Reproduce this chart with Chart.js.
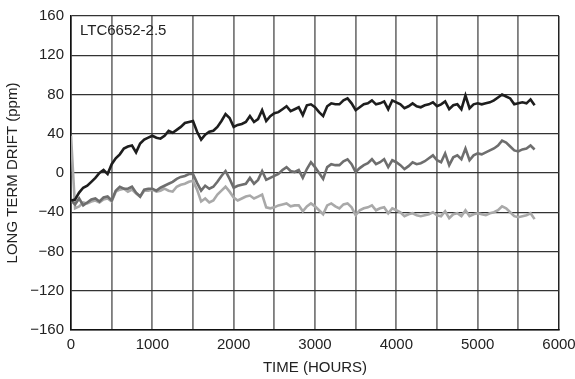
<!DOCTYPE html>
<html>
<head>
<meta charset="utf-8">
<script src="https://cdn.jsdelivr.net/npm/chart.js@4"></script>
<style>
  html, body { margin: 0; padding: 0; background: #fff; }
  #wrap { width: 575px; height: 379px; }
</style>
</head>
<body>
<div id="wrap"><canvas id="grafica1" width="575" height="379"></canvas></div>
<script>
// horas de medida (cada 50 h)
const hours = [
  0, 50, 100, 150, 200, 250, 300, 350, 400, 450,
  500, 550, 600, 650, 700, 750, 800, 850, 900, 950,
  1000, 1050, 1100, 1150, 1200, 1250, 1300, 1350, 1400, 1450,
  1500, 1550, 1600, 1650, 1700, 1750, 1800, 1850, 1900, 1950,
  2000, 2050, 2100, 2150, 2200, 2250, 2300, 2350, 2400, 2450,
  2500, 2550, 2600, 2650, 2700, 2750, 2800, 2850, 2900, 2950,
  3000, 3050, 3100, 3150, 3200, 3250, 3300, 3350, 3400, 3450,
  3500, 3550, 3600, 3650, 3700, 3750, 3800, 3850, 3900, 3950,
  4000, 4050, 4100, 4150, 4200, 4250, 4300, 4350, 4400, 4450,
  4500, 4550, 4600, 4650, 4700, 4750, 4800, 4850, 4900, 4950,
  5000, 5050, 5100, 5150, 5200, 5250, 5300, 5350, 5400, 5450,
  5500, 5550, 5600, 5650, 5700
];

// deriva (ppm) de las tres unidades
const unitBlack = [
  -28, -27, -20, -15, -13, -9, -5, 0, 3, -1,
  9, 15, 19, 25, 27, 28, 21, 30, 34, 36,
  38, 36, 35, 38, 43, 41, 44, 47, 51, 52,
  53, 42, 34, 39, 42, 43, 47, 53, 60, 56,
  47, 49, 50, 52, 58, 52, 55, 64, 53, 58,
  61, 62, 65, 68, 63, 65, 67, 59, 69, 70,
  67, 62, 58, 68, 71, 70, 70, 74, 76, 71,
  64, 67, 70, 71, 74, 70, 71, 73, 65, 74,
  72, 70, 66, 68, 71, 68, 67, 69, 70, 72,
  68, 70, 73, 65, 69, 70, 65, 79, 66, 70,
  71, 70, 71, 72, 74, 77, 80, 78, 76, 70,
  71, 72, 71, 75, 69
];
const unitDark = [
  -28, -32, -26, -33, -30, -27, -26, -29, -25, -24,
  -28, -18, -14, -16, -16, -14, -20, -24, -17, -16,
  -16, -18, -15, -13, -11, -9, -6, -4, -3, -1,
  -1, -10, -18, -13, -16, -14, -9, -3, 2, -6,
  -15, -13, -12, -11, -5, -11, -7, 2, -7, -5,
  -3, -1, 3, 6, 2, 1, 3, -5, 4, 11,
  6, 0, -6, 6, 9, 8, 8, 12, 14, 9,
  1, 5, 8, 10, 14, 9, 11, 14, 6, 13,
  11, 8, 4, 7, 11, 9, 10, 12, 15, 18,
  13, 11, 20, 8, 16, 18, 14, 25, 13, 18,
  20, 19, 21, 23, 25, 28, 33, 31, 27, 23,
  22, 24, 25, 28, 24
];
const unitLight = [
  38, -36, -34, -30, -31, -29, -28, -30, -27, -26,
  -29, -19, -17, -16, -19, -17, -21, -24, -18, -18,
  -17, -19, -18, -16, -18, -19, -14, -12, -11, -9,
  -8, -17, -29, -26, -30, -28, -22, -18, -14, -19,
  -25, -28, -26, -24, -23, -26, -24, -22, -35, -36,
  -35, -33, -32, -31, -34, -33, -33, -39, -34, -31,
  -34, -38, -42, -33, -31, -34, -36, -32, -31, -35,
  -43, -38, -36, -35, -33, -38, -36, -35, -41, -36,
  -38, -40, -44, -42, -41, -43, -44, -43, -42, -40,
  -43, -44, -39, -46, -42, -41, -44, -38, -44, -42,
  -41, -42, -43, -41, -40, -38, -34, -36, -40, -44,
  -45, -44, -43, -41, -47
];

const partName = "LTC6652-2.5";
const xTitle = "TIME (HOURS)";
const yTitle = "LONG TERM DRIFT (ppm)";

const FONT = "'Liberation Sans Narrow', 'Arial Narrow', 'Liberation Sans', Arial, sans-serif";

function pts(ys) {
  return hours.map((h, i) => ({ x: h, y: ys[i] }));
}

// etiqueta del componente dentro del área
const labelPlugin = {
  id: "partLabel",
  afterDraw(chart) {
    const c = chart.ctx;
    const a = chart.chartArea;
    c.save();
    c.font = "15px " + FONT;
    c.fillStyle = "#222";
    c.textAlign = "left";
    c.textBaseline = "middle";
    c.fillText(partName, a.left + 9, a.top + 15);
    c.restore();
  },
};

const ctx = document.getElementById("grafica1");
new Chart(ctx, {
  type: "line",
  data: {
    datasets: [
      { data: pts(unitBlack), borderColor: "#1e1e1e", borderWidth: 2.6 },
      { data: pts(unitDark), borderColor: "#6e6e6e", borderWidth: 2.6 },
      { data: pts(unitLight), borderColor: "#a9a9a9", borderWidth: 2.6 },
    ],
  },
  options: {
    responsive: false,
    animation: false,
    layout: { padding: { top: 15, right: 0, left: 0, bottom: 0 } },
    elements: { point: { radius: 0 }, line: { tension: 0 } },
    plugins: { legend: { display: false }, tooltip: { enabled: false } },
    scales: {
      x: {
        type: "linear",
        min: 0,
        max: 6000,
        afterFit: (s) => { s.height = 49; s.paddingRight = 16; },
        border: { color: "#111", width: 1.5 },
        grid: {
          drawTicks: false,
          color: (c) => (c.tick.value === 6000 ? "#222" : "#7c7c7c"),
          lineWidth: (c) => (c.tick.value === 6000 ? 1.5 : 1.8),
        },
        ticks: {
          stepSize: 500,
          padding: 6,
          maxRotation: 0,
          autoSkip: false,
          color: "#222",
          font: { family: FONT, size: 15 },
          callback: (v) => (v % 1000 === 0 ? v : ""),
        },
        title: {
          display: true,
          text: xTitle,
          color: "#222",
          padding: { top: 0, bottom: 2 },
          font: { family: FONT, size: 15 },
        },
      },
      y: {
        min: -160,
        max: 160,
        afterFit: (s) => { s.width = 71; },
        border: { color: "#111", width: 1.5 },
        grid: {
          drawTicks: false,
          color: "#333",
          lineWidth: 1.2,
        },
        ticks: {
          stepSize: 40,
          padding: 7,
          color: "#222",
          font: { family: FONT, size: 15 },
          callback: (v) => (v < 0 ? "\u2212" + Math.abs(v) : v),
        },
        title: {
          display: true,
          text: yTitle,
          color: "#222",
          padding: { top: 4, bottom: 0 },
          font: { family: FONT, size: 15 },
        },
      },
    },
  },
  plugins: [labelPlugin],
});
</script>
</body>
</html>
